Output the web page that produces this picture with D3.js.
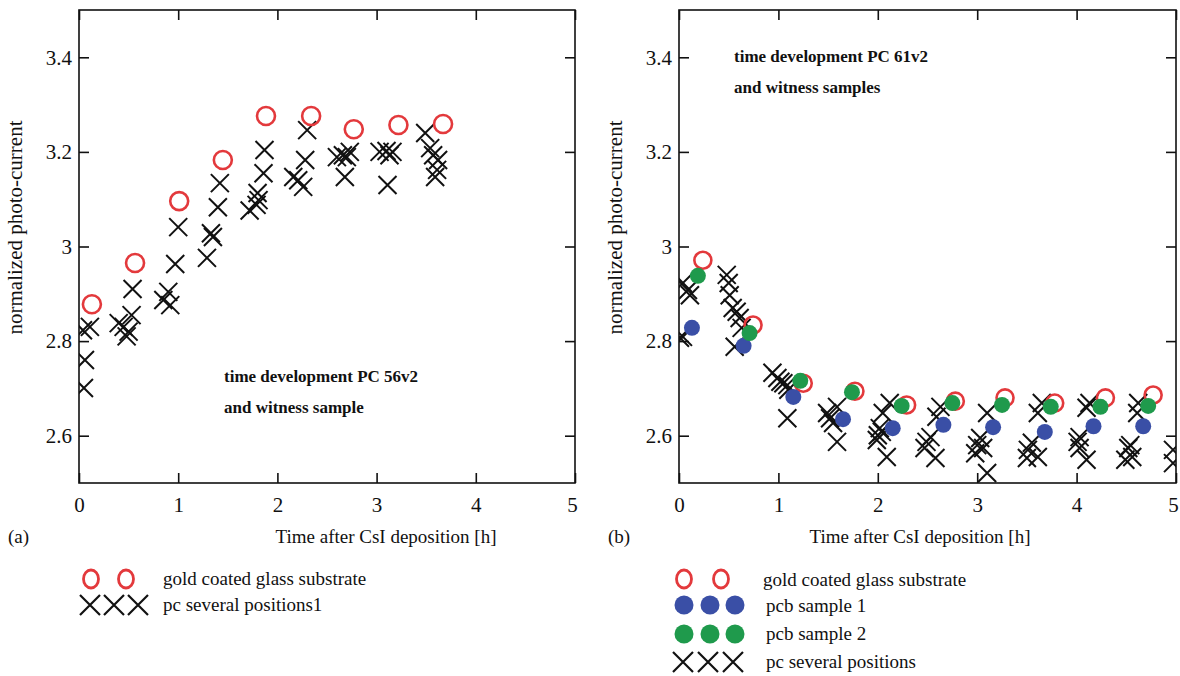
<!DOCTYPE html>
<html>
<head>
<meta charset="utf-8">
<script src="https://cdn.jsdelivr.net/npm/d3@7"></script>
<style>
    body { margin: 0; background: #fff; }
    svg { display: block; font-family: "Liberation Serif", "DejaVu Serif", serif; }
    .tick text { font-family: "Liberation Serif", serif; font-size: 21px; fill: #111; }
    .tick line { stroke: #111; stroke-width: 1.6; }
    .frame { fill: none; stroke: #111; stroke-width: 1.6; }
    .label { font-size: 19px; fill: #111; }
    .note { font-size: 17px; font-weight: bold; fill: #111; }
    .legend { font-size: 19px; fill: #111; }
</style>
</head>
<body>
<div id="chart"></div>
<script>
// panel (a): PC 56v2
const goldA = [
    [0.13, 2.878], [0.565, 2.965], [1.01, 3.096], [1.45, 3.183], [1.885, 3.276],
    [2.34, 3.276], [2.77, 3.248], [3.22, 3.257], [3.67, 3.259]
];
const pcA = [
    [0.04, 2.823], [0.11, 2.830], [0.06, 2.760], [0.05, 2.701],
    [0.40, 2.838], [0.45, 2.830], [0.50, 2.820], [0.48, 2.810], [0.53, 2.855], [0.54, 2.910],
    [0.85, 2.887], [0.90, 2.904], [0.92, 2.876], [0.97, 2.963], [1.00, 3.041],
    [1.29, 2.976], [1.35, 3.020], [1.33, 3.028], [1.40, 3.083], [1.42, 3.134],
    [1.72, 3.076], [1.79, 3.088], [1.81, 3.098], [1.80, 3.113], [1.86, 3.155], [1.87, 3.204],
    [2.16, 3.147], [2.21, 3.140], [2.26, 3.126], [2.28, 3.183], [2.30, 3.246],
    [2.60, 3.189], [2.66, 3.193], [2.70, 3.189], [2.73, 3.200], [2.68, 3.147],
    [3.03, 3.200], [3.10, 3.202], [3.13, 3.193], [3.16, 3.200], [3.11, 3.130],
    [3.49, 3.240], [3.54, 3.208], [3.57, 3.193], [3.62, 3.183], [3.61, 3.162], [3.59, 3.147]
];

// panel (b): PC 61v2
const goldB = [
    [0.24, 2.971], [0.745, 2.834], [1.25, 2.711], [1.77, 2.694], [2.29, 2.665],
    [2.78, 2.673], [3.28, 2.680], [3.78, 2.669], [4.29, 2.680], [4.77, 2.686]
];
const pcb1 = [
    [0.13, 2.828], [0.65, 2.790], [1.15, 2.682], [1.65, 2.635], [2.15, 2.616],
    [2.66, 2.623], [3.16, 2.618], [3.68, 2.608], [4.17, 2.620], [4.67, 2.620]
];
const pcb2 = [
    [0.19, 2.938], [0.71, 2.817], [1.22, 2.716], [1.74, 2.692], [2.24, 2.663],
    [2.75, 2.669], [3.25, 2.665], [3.74, 2.661], [4.24, 2.661], [4.72, 2.663]
];
const pcB = [
    [0.04, 2.923], [0.09, 2.908], [0.11, 2.897], [0.04, 2.809], [0.01, 2.807],
    [0.48, 2.940], [0.50, 2.923], [0.51, 2.897], [0.54, 2.870], [0.58, 2.862], [0.61, 2.849], [0.63, 2.828], [0.56, 2.788],
    [0.94, 2.733], [0.99, 2.722], [1.02, 2.714], [1.05, 2.711], [1.09, 2.707], [1.10, 2.697], [1.09, 2.637],
    [1.49, 2.648], [1.52, 2.637], [1.59, 2.661], [1.55, 2.627], [1.59, 2.587],
    [2.12, 2.669], [2.05, 2.648], [2.02, 2.616], [2.00, 2.601], [1.99, 2.591], [2.04, 2.608], [2.09, 2.555],
    [2.63, 2.661], [2.59, 2.640], [2.53, 2.597], [2.49, 2.587], [2.47, 2.574], [2.58, 2.553],
    [3.10, 2.648], [3.03, 2.595], [3.00, 2.580], [2.98, 2.563], [3.06, 2.574], [3.10, 2.521],
    [3.65, 2.669], [3.61, 2.648], [3.55, 2.585], [3.51, 2.570], [3.50, 2.553], [3.61, 2.555],
    [4.13, 2.669], [4.10, 2.659], [4.03, 2.597], [4.01, 2.587], [4.03, 2.574], [4.10, 2.549],
    [4.62, 2.669], [4.61, 2.648], [4.54, 2.580], [4.52, 2.574], [4.49, 2.549], [4.56, 2.555],
    [4.97, 2.570], [4.97, 2.542]
];

const xTicks = [0, 1, 2, 3, 4, 5];
const yTicks = [2.6, 2.8, 3, 3.2, 3.4];
const xDomain = [0, 5];
const yDomain = [2.5, 3.5];

const legendA = ["gold coated glass substrate", "pc several positions1"];
const legendB = ["gold coated glass substrate", "pcb sample 1", "pcb sample 2", "pc several positions"];

const colors = { gold: "#e3393c", pcb1: "#3a4fa6", pcb2: "#1f9a4c", pc: "#111" };

const W = 1180, H = 676;
const svg = d3.select("#chart").append("svg")
    .attr("width", W)
    .attr("height", H);

function crossPath(s) {
    return `M${-s},${-s}L${s},${s}M${-s},${s}L${s},${-s}`;
}

function plainAxis(a) {
    a.attr("font-family", null).attr("font-size", null);
    a.select(".domain").remove();
}

function drawPanel(cfg) {
    const x = d3.scaleLinear().domain(xDomain).range([cfg.left, cfg.right]);
    const y = d3.scaleLinear().domain(yDomain).range([cfg.bottom, cfg.top]);
    const g = svg.append("g");

    const clipId = "clip-" + cfg.tag;
    g.append("clipPath").attr("id", clipId)
        .append("rect")
        .attr("x", cfg.left).attr("y", cfg.top)
        .attr("width", cfg.right - cfg.left).attr("height", cfg.bottom - cfg.top);

    // axes, ticks pointing inward on all four sides
    const fmt = d => d;
    g.append("g").attr("transform", `translate(0,${cfg.bottom})`)
        .call(d3.axisBottom(x).tickValues(xTicks).tickFormat(fmt).tickSize(-10).tickPadding(14))
        .call(plainAxis)
        .selectAll(".tick text")
        .attr("dx", d => d === 5 ? -3 : 0);
    g.append("g").attr("transform", `translate(0,${cfg.top})`)
        .call(d3.axisTop(x).tickValues(xTicks).tickFormat("").tickSize(-10))
        .call(plainAxis);
    g.append("g").attr("transform", `translate(${cfg.left},0)`)
        .call(d3.axisLeft(y).tickValues(yTicks).tickFormat(fmt).tickSize(-10).tickPadding(7))
        .call(plainAxis);
    g.append("g").attr("transform", `translate(${cfg.right},0)`)
        .call(d3.axisRight(y).tickValues(yTicks).tickFormat("").tickSize(-10))
        .call(plainAxis);

    g.append("rect").attr("class", "frame")
        .attr("x", cfg.left).attr("y", cfg.top)
        .attr("width", cfg.right - cfg.left).attr("height", cfg.bottom - cfg.top);

    const marks = g.append("g").attr("clip-path", `url(#${clipId})`);

    marks.append("g").selectAll("path")
        .data(cfg.crosses)
        .join("path")
        .attr("transform", d => `translate(${x(d[0])},${y(d[1])})`)
        .attr("d", crossPath(9))
        .attr("fill", "none")
        .attr("stroke", colors.pc)
        .attr("stroke-width", 2);

    marks.append("g").selectAll("circle")
        .data(cfg.gold)
        .join("circle")
        .attr("cx", d => x(d[0])).attr("cy", d => y(d[1]))
        .attr("r", cfg.ringR)
        .attr("fill", "none")
        .attr("stroke", colors.gold)
        .attr("stroke-width", 2.6);

    (cfg.dots || []).forEach(s => {
        marks.append("g").selectAll("circle")
            .data(s.data)
            .join("circle")
            .attr("cx", d => x(d[0])).attr("cy", d => y(d[1]))
            .attr("r", 8)
            .attr("fill", s.color);
    });

    // axis titles
    g.append("text").attr("class", "label")
        .attr("transform", `translate(${cfg.left - 57},${(cfg.top + cfg.bottom) / 2 - 19}) rotate(-90)`)
        .attr("text-anchor", "middle")
        .style("font-size", "21px")
        .text("normalized photo-current");
    g.append("text").attr("class", "label")
        .attr("x", cfg.titleX).attr("y", 543)
        .attr("text-anchor", "middle")
        .text("Time after CsI deposition [h]");
    g.append("text").attr("class", "label")
        .attr("x", cfg.left - 71).attr("y", 543)
        .text(cfg.tag === "a" ? "(a)" : "(b)");

    g.append("g").selectAll("text")
        .data(cfg.note)
        .join("text")
        .attr("class", "note")
        .attr("x", cfg.noteX)
        .attr("y", (d, i) => cfg.noteY + i * 31)
        .text(d => d);

    return { x, y, g };
}

drawPanel({
    tag: "a", left: 79, right: 575, top: 10, bottom: 483,
    crosses: pcA, gold: goldA, ringR: 9, titleX: 386,
    note: ["time development PC 56v2", "and witness sample"], noteX: 224, noteY: 382
});

drawPanel({
    tag: "b", left: 679, right: 1176, top: 10, bottom: 483,
    crosses: pcB, gold: goldB, ringR: 8.5, titleX: 920,
    dots: [{ data: pcb1, color: colors.pcb1 }, { data: pcb2, color: colors.pcb2 }],
    note: ["time development PC 61v2", "and witness samples"], noteX: 734, noteY: 62
});

// legends
function ringKey(g, xs, cy) {
    g.selectAll(null).data(xs).join("ellipse")
        .attr("cx", d => d).attr("cy", cy).attr("rx", 7.5).attr("ry", 9)
        .attr("fill", "none").attr("stroke", colors.gold).attr("stroke-width", 2.8);
}
function dotKey(g, xs, cy, color) {
    g.selectAll(null).data(xs).join("circle")
        .attr("cx", d => d).attr("cy", cy).attr("r", 9.5).attr("fill", color);
}
function crossKey(g, xs, cy) {
    g.selectAll(null).data(xs).join("path")
        .attr("transform", d => `translate(${d},${cy})`)
        .attr("d", crossPath(10))
        .attr("fill", "none").attr("stroke", colors.pc).attr("stroke-width", 2.2);
}

const legA = svg.append("g");
ringKey(legA, [91, 126], 579);
crossKey(legA, [90, 114, 138], 605);
legA.selectAll("text").data(legendA).join("text")
    .attr("class", "legend")
    .attr("x", 163).attr("y", (d, i) => 585 + i * 26)
    .text(d => d);

const legB = svg.append("g");
ringKey(legB, [684, 721], 579);
dotKey(legB, [684, 710, 735], 605, colors.pcb1);
dotKey(legB, [684, 710, 735], 634, colors.pcb2);
crossKey(legB, [683, 708, 733], 662);
legB.selectAll("text").data(legendB).join("text")
    .attr("class", "legend")
    .attr("x", (d, i) => i === 0 ? 763 : 766)
    .attr("y", (d, i) => [586, 612, 640, 668][i])
    .text(d => d);
</script>
</body>
</html>
